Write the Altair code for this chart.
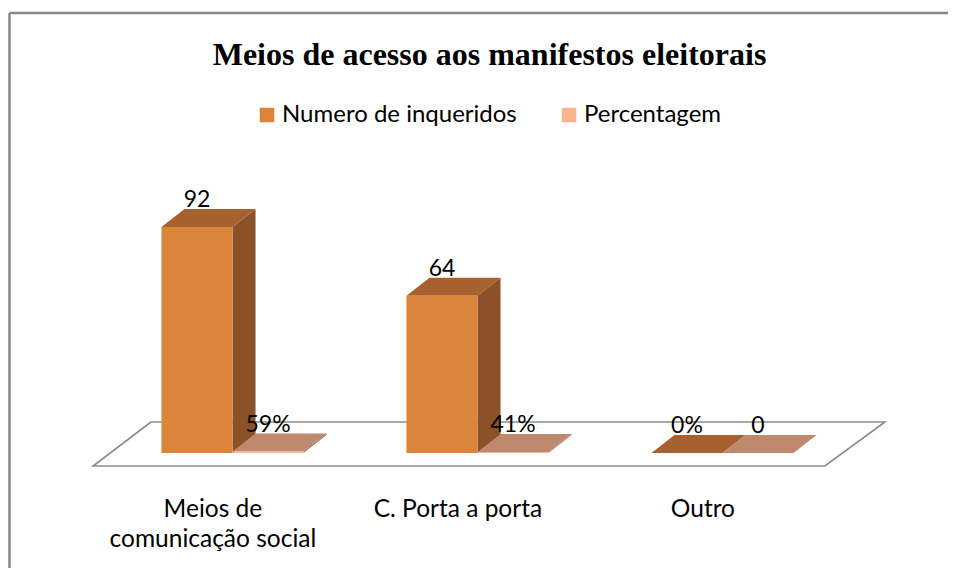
import altair as alt
import pandas as pd

# ---------------- data ----------------
title_text = "Meios de acesso aos manifestos eleitorais"
categories = ["Meios de\ncomunicação social", "C. Porta a porta", "Outro"]
series = ["Numero de inqueridos", "Percentagem"]
numero = [92, 64, 0]
percent = [0.59, 0.41, 0.0]
numero_labels = ["92", "64", "0%"]
percent_labels = ["59%", "41%", "0"]

# ---------------- styling / geometry ----------------
W, H = 940, 560
PX_X = 245.0          # pixels per category slot
PX_Y = 2.4565         # pixels per value unit
X0_PX, Y0_PX = 224.5, 445.0
XMIN = -X0_PX / PX_X
XMAX = XMIN + W / PX_X
YMAX = Y0_PX / PX_Y
YMIN = YMAX - H / PX_Y

BAR_W = 0.29
DX = 0.094
DY = 7.33

front_cols = {series[0]: "#DA843C", series[1]: "#F9B68C"}
side_cols = {series[0]: "#8B5128", series[1]: "#A8775D"}
top_cols = {series[0]: "#A6612F", series[1]: "#BE896E"}

FLOOR_Y = [-5.29, 12.62]
FLOOR_XL = [-0.569, -0.333]
FLOOR_XR = [2.418, 2.663]

xs = alt.Scale(domain=[XMIN, XMAX], nice=False, zero=False)
ys = alt.Scale(domain=[YMIN, YMAX], nice=False, zero=False)

# ---------------- tables ----------------
bars, sides, tops, labels = [], [], [], []
for s_idx, (sname, vals, labs) in enumerate(
        [(series[0], numero, numero_labels), (series[1], percent, percent_labels)]):
    for i, (v, lab) in enumerate(zip(vals, labs)):
        left = i - BAR_W + s_idx * BAR_W
        right = left + BAR_W
        key = f"{s_idx}-{i}"
        bars.append(dict(serie=sname, left=left, right=right, v=v, base=0.0))
        sides.append(dict(key=key, x=right, lo=0.0, hi=v, fill=side_cols[sname]))
        sides.append(dict(key=key, x=right + DX, lo=DY, hi=v + DY, fill=side_cols[sname]))
        tops.append(dict(key=key, y=v, xl=left, xr=right, fill=top_cols[sname]))
        tops.append(dict(key=key, y=v + DY, xl=left + DX, xr=right + DX, fill=top_cols[sname]))
        labels.append(dict(x=(left + right) / 2, y=v + DY, t=lab))

bars_df = pd.DataFrame(bars)
sides_df = pd.DataFrame(sides)
tops_df = pd.DataFrame(tops)
labels_df = pd.DataFrame(labels)
floor_df = pd.DataFrame(dict(y=FLOOR_Y, xl=FLOOR_XL, xr=FLOOR_XR))
cat_df = pd.DataFrame(dict(x=[i - 0.08 for i in range(len(categories))],
                           y=[-26.05] * len(categories), t=categories))

FONT = "Lato"

floor = alt.Chart(floor_df).mark_area(
    orient="horizontal", fill="white", stroke="#8C8C8C", strokeWidth=1.6
).encode(
    y=alt.Y("y:Q", scale=ys, axis=None),
    x=alt.X("xl:Q", scale=xs, axis=None),
    x2="xr:Q",
)

side = alt.Chart(sides_df).mark_area(orient="vertical").encode(
    x=alt.X("x:Q", scale=xs, axis=None),
    y=alt.Y("lo:Q", scale=ys, axis=None),
    y2="hi:Q",
    detail="key:N",
    fill=alt.Fill("fill:N", scale=None),
)

top = alt.Chart(tops_df).mark_area(orient="horizontal").encode(
    y=alt.Y("y:Q", scale=ys, axis=None),
    x=alt.X("xl:Q", scale=xs, axis=None),
    x2="xr:Q",
    detail="key:N",
    fill=alt.Fill("fill:N", scale=None),
)

front = alt.Chart(bars_df).mark_bar(opacity=1).encode(
    x=alt.X("left:Q", scale=xs, axis=None),
    x2="right:Q",
    y=alt.Y("v:Q", scale=ys, axis=None),
    y2="base:Q",
    color=alt.Color(
        "serie:N",
        scale=alt.Scale(domain=series, range=[front_cols[s] for s in series]),
        legend=alt.Legend(
            title=None, orient="none", legendX=247, legendY=95,
            direction="horizontal", symbolType="square", symbolSize=210,
            symbolStrokeWidth=0, symbolOpacity=1,
            labelFont=FONT, labelFontSize=24, labelColor="#000000",
            labelOffset=3, columnPadding=40, labelLimit=400,
        ),
    ),
)

vlabels = alt.Chart(labels_df).mark_text(
    font=FONT, fontSize=23, color="#000000", baseline="alphabetic", dy=-2
).encode(
    x=alt.X("x:Q", scale=xs, axis=None),
    y=alt.Y("y:Q", scale=ys, axis=None),
    text="t:N",
)

clabels = alt.Chart(cat_df).mark_text(
    font=FONT, fontSize=24.5, color="#000000", baseline="alphabetic",
    lineBreak="\n", lineHeight=30
).encode(
    x=alt.X("x:Q", scale=xs, axis=None),
    y=alt.Y("y:Q", scale=ys, axis=None),
    text="t:N",
)

title = alt.Chart(pd.DataFrame(dict(t=[title_text]))).mark_text(
    font="Liberation Serif", fontSize=32, fontWeight="bold", color="#000000",
    baseline="alphabetic"
).encode(x=alt.value(481.5), y=alt.value(57), text="t:N")

border_v = alt.Chart(pd.DataFrame(dict(a=[0]))).mark_rule(
    color="#888888", strokeWidth=2.5
).encode(x=alt.value(1.5), y=alt.value(5), y2=alt.value(H))
border_h = alt.Chart(pd.DataFrame(dict(a=[0]))).mark_rule(
    color="#888888", strokeWidth=2.5
).encode(x=alt.value(1.5), x2=alt.value(W), y=alt.value(5))

chart = alt.layer(
    floor, side, top, front, vlabels, clabels, title, border_v, border_h
).properties(
    width=W, height=H, autosize=alt.AutoSizeParams(type="none"), padding=0,
    background="white",
).configure_view(strokeWidth=0)

chart.save("out.html", embed_options={"renderer": "svg", "actions": False})
